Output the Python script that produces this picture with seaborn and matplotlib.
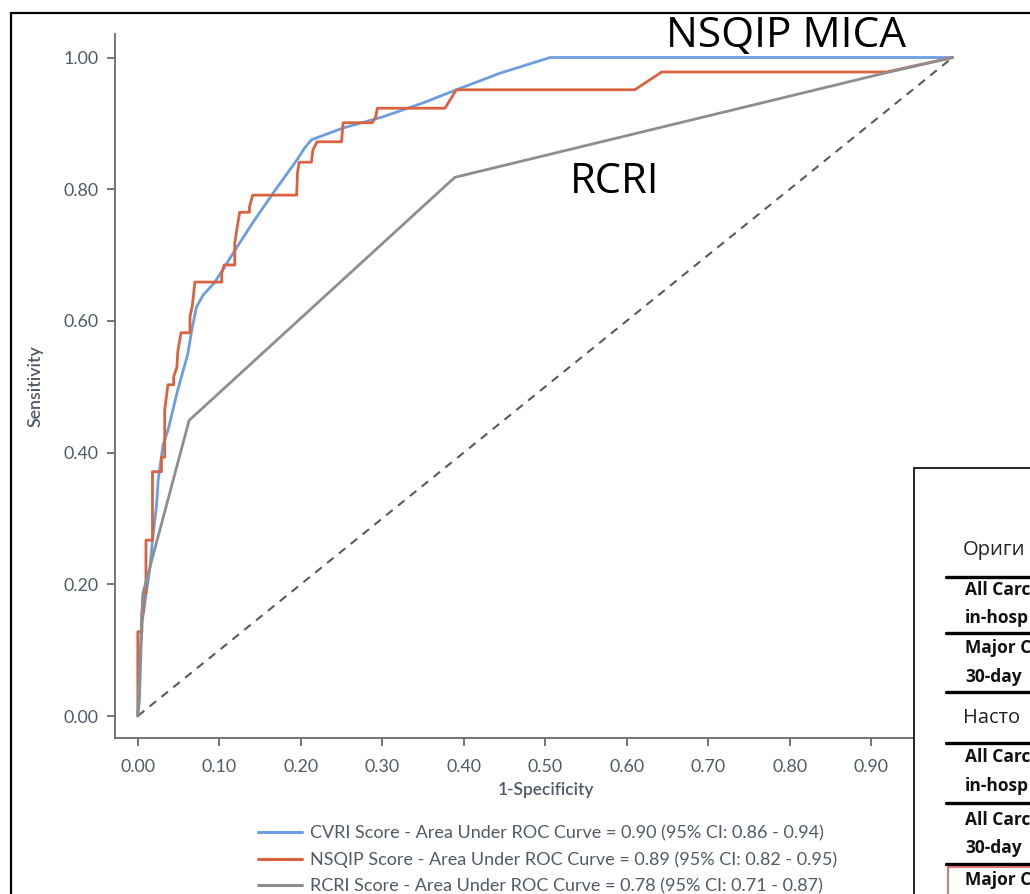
import matplotlib
matplotlib.use("Agg")
import matplotlib.pyplot as plt
import pandas as pd
import seaborn as sns
from matplotlib.patches import Rectangle
from matplotlib.lines import Line2D

# ---------------- data ----------------
cvri_fpr = [0.0, 0.002, 0.005, 0.015, 0.018, 0.023, 0.025, 0.031, 0.037, 0.049, 0.061, 0.067,
            0.072, 0.080, 0.094, 0.104, 0.117, 0.141, 0.166, 0.195, 0.205, 0.213, 0.226, 0.252,
            0.301, 0.350, 0.391, 0.444, 0.506, 1.0]
cvri_tpr = [0.0, 0.024, 0.141, 0.226, 0.267, 0.320, 0.358, 0.412, 0.434, 0.495, 0.548, 0.591,
            0.621, 0.639, 0.658, 0.677, 0.703, 0.749, 0.794, 0.844, 0.863, 0.875, 0.881, 0.893,
            0.910, 0.931, 0.951, 0.976, 1.0, 1.0]

nsqip_fpr = [0.0, 0.0, 0.005, 0.005, 0.007, 0.007, 0.010, 0.010, 0.018, 0.018, 0.029, 0.029,
             0.033, 0.033, 0.037, 0.044, 0.044, 0.048, 0.049, 0.053, 0.064, 0.064, 0.067, 0.070,
             0.103, 0.103, 0.106, 0.119, 0.119, 0.121, 0.125, 0.137, 0.137, 0.141, 0.195, 0.196,
             0.198, 0.213, 0.215, 0.220, 0.250, 0.252, 0.288, 0.292, 0.294, 0.377, 0.391, 0.610,
             0.643, 0.919, 1.0]
nsqip_tpr = [0.0, 0.128, 0.128, 0.158, 0.158, 0.187, 0.187, 0.267, 0.267, 0.371, 0.371, 0.393,
             0.393, 0.465, 0.503, 0.503, 0.515, 0.530, 0.553, 0.582, 0.582, 0.606, 0.624, 0.659,
             0.659, 0.673, 0.685, 0.685, 0.718, 0.735, 0.765, 0.765, 0.773, 0.791, 0.791, 0.825,
             0.841, 0.841, 0.860, 0.872, 0.872, 0.901, 0.901, 0.910, 0.923, 0.923, 0.951, 0.951,
             0.978, 0.978, 1.0]

rcri_fpr = [0.0, 0.006, 0.063, 0.389, 0.919, 1.0]
rcri_tpr = [0.0, 0.185, 0.449, 0.818, 0.977, 1.0]

chance_line = [0.0, 1.0]

series_names = ["CVRI", "NSQIP", "RCRI"]
legend_labels = [
    "CVRI Score - Area Under ROC Curve = 0.90 (95% CI: 0.86 - 0.94)",
    "NSQIP Score - Area Under ROC Curve = 0.89 (95% CI: 0.82 - 0.95)",
    "RCRI Score - Area Under ROC Curve = 0.78 (95% CI: 0.71 - 0.87)",
]
x_ticks = [0.0, 0.1, 0.2, 0.3, 0.4, 0.5, 0.6, 0.7, 0.8, 0.9]
x_tick_labels = ["0.00", "0.10", "0.20", "0.30", "0.40", "0.50", "0.60", "0.70", "0.80", "0.90"]
y_ticks = [0.0, 0.2, 0.4, 0.6, 0.8, 1.0]
y_tick_labels = ["0.00", "0.20", "0.40", "0.60", "0.80", "1.00"]

# visible fragments of the overlapping (cropped) table
table_headers = ["Ориги", "Насто"]
table_rows_orig = ["All Carc", "in-hosp", "Major C", "30-day"]
table_rows_new = ["All Carc", "in-hosp", "All Carc", "30-day", "Major C"]

# ---------------- style ----------------
sns.set_theme(style="ticks")
plt.rcParams["font.family"] = ["Lato", "DejaVu Sans"]

colors = {"CVRI": "#6c9de0", "NSQIP": "#d9623f", "RCRI": "#8e8e8e"}
txt_gray = "#505a68"
W, H = 1030, 894

fig = plt.figure(figsize=(W / 100, H / 100), dpi=100)
ax = fig.add_axes([115 / W, (H - 738) / H, (977 - 115) / W, (738 - 34) / H])

df = pd.concat([
    pd.DataFrame({"fpr": cvri_fpr, "tpr": cvri_tpr, "series": "CVRI"}),
    pd.DataFrame({"fpr": nsqip_fpr, "tpr": nsqip_tpr, "series": "NSQIP"}),
    pd.DataFrame({"fpr": rcri_fpr, "tpr": rcri_tpr, "series": "RCRI"}),
], ignore_index=True)

sns.lineplot(x=chance_line, y=chance_line, ax=ax, color="#5a5a5a", lw=1.5,
             linestyle=(0, (4, 3.3)), sort=False, estimator=None, legend=False)
for name in series_names:
    sub = df[df["series"] == name]
    sns.lineplot(data=sub, x="fpr", y="tpr", ax=ax, color=colors[name], lw=2.0,
                 sort=False, estimator=None, legend=False)

ax.set_xlim(-0.028, 1.03)
ax.set_ylim(-0.0334, 1.0357)
ax.set_xticks(x_ticks)
ax.set_xticklabels(x_tick_labels)
ax.set_yticks(y_ticks)
ax.set_yticklabels(y_tick_labels)
for s in ["top", "right"]:
    ax.spines[s].set_visible(False)
for s in ["left", "bottom"]:
    ax.spines[s].set_color("#6a6a6a")
    ax.spines[s].set_linewidth(1.3)
ax.tick_params(axis="both", colors="#6a6a6a", length=6, width=1.3, labelsize=12.8,
               labelcolor=txt_gray)
ax.tick_params(axis="x", pad=9)
ax.tick_params(axis="y", pad=6)
ax.set_xlabel("1-Specificity", fontsize=12.5, fontweight="semibold", color=txt_gray, labelpad=5)
ax.set_ylabel("Sensitivity", fontsize=12.8, fontweight="semibold", color=txt_gray)
ax.yaxis.set_label_coords(-0.083, 0.5)
ax.grid(False)

handles = [Line2D([], [], color=colors[n], lw=2.2) for n in series_names]
fig.legend(handles, legend_labels, loc="upper left", bbox_to_anchor=(249 / W, (H - 816) / H),
           frameon=False, fontsize=13, handlelength=2.45, handletextpad=0.45,
           labelspacing=0.56, borderpad=0, labelcolor=txt_gray)

# annotations
fig.text(786 / W, (H - 36) / H, "NSQIP MICA", fontsize=30.5, family=["Open Sans", "DejaVu Sans"],
         color="black", ha="center", va="center")
fig.text(615 / W, (H - 182) / H, "RCRI", fontsize=30, family=["Open Sans", "DejaVu Sans"],
         color="black", ha="center", va="center")

# outer border
fig.patches.append(Rectangle((11 / W, -0.05), 1.2, (H - 13) / H + 0.05, transform=fig.transFigure,
                             fill=False, ec="black", lw=1.6, zorder=5))

# overlapping table box
fig.patches.append(Rectangle((914 / W, -0.05), 0.2, (H - 468) / H + 0.05, transform=fig.transFigure,
                             fc="white", ec="black", lw=1.2, zorder=10))
for yy in [577, 633, 692, 743, 803, 864]:
    fig.lines.append(Line2D([946 / W, 1.02], [(H - yy) / H] * 2, transform=fig.transFigure,
                            color="black", lw=2.4, zorder=11))
fig.patches.append(Rectangle((948 / W, -0.05), 0.2, (H - 867) / H + 0.05, transform=fig.transFigure,
                             fill=False, ec="#e05a5a", lw=1.2, zorder=12))
tfam = ["Open Sans", "DejaVu Sans"]
for txt, yy in zip(table_headers, [550, 718]):
    fig.text(963 / W, (H - yy) / H, txt, fontsize=14.5, family=tfam, color="#222",
             va="center", ha="left", zorder=13)
for txt, yy in zip(table_rows_orig, [590, 618, 648, 677]):
    fig.text(965 / W, (H - yy) / H, txt, fontsize=12.5, family=tfam, fontweight="bold",
             color="#111", va="center", ha="left", zorder=13)
for txt, yy in zip(table_rows_new, [757, 786, 820, 848, 880]):
    fig.text(965 / W, (H - yy) / H, txt, fontsize=12.5, family=tfam, fontweight="bold",
             color="#111", va="center", ha="left", zorder=13)

fig.savefig("out.png", dpi=100, facecolor="white")
